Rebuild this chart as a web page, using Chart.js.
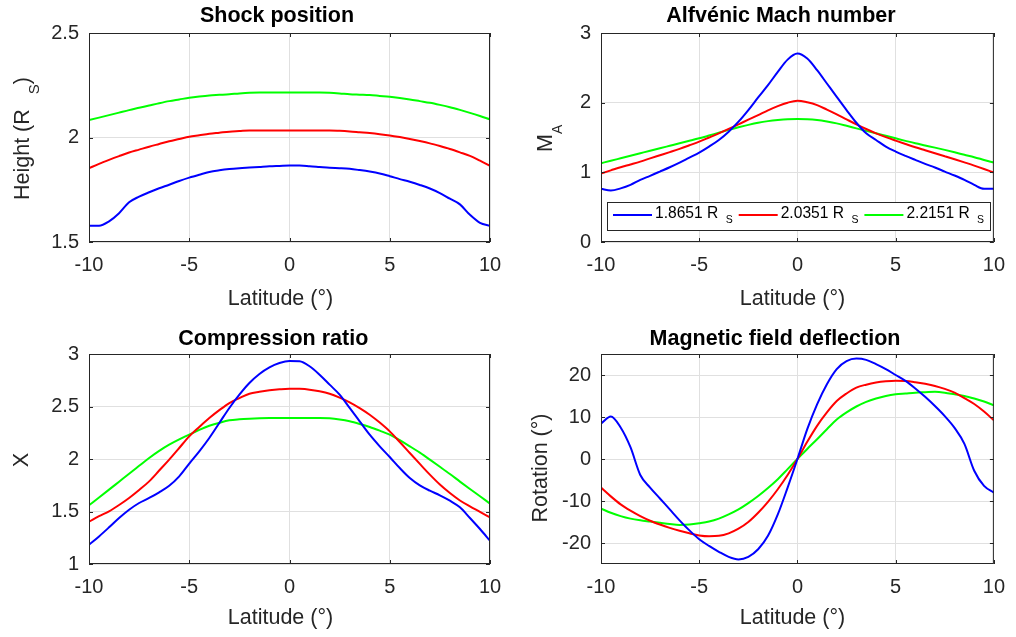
<!DOCTYPE html>
<html>
<head>
<meta charset="utf-8">
<script src="https://cdn.jsdelivr.net/npm/chart.js@4.4.1/dist/chart.umd.min.js"></script>
<style>
  html, body { margin: 0; padding: 0; background: #fff; }
  #wrap { position: relative; width: 1016px; height: 637px; }
  #wrap canvas { position: absolute; left: 0; top: 0; }
</style>
</head>
<body>
<div id="wrap">
  <canvas id="shock" width="1016" height="637"></canvas>
  <canvas id="mach" width="1016" height="637"></canvas>
  <canvas id="comp" width="1016" height="637"></canvas>
  <canvas id="rot" width="1016" height="637"></canvas>
</div>
<script>
// latitude samples (deg)
const latitude = [-10, -9.5, -9, -8.5, -8, -7.5, -7, -6.5, -6, -5.5, -5, -4.5, -4, -3.5, -3, -2.5, -2, -1.5, -1, -0.5,
  0, 0.5, 1, 1.5, 2, 2.5, 3, 3.5, 4, 4.5, 5, 5.5, 6, 6.5, 7, 7.5, 8, 8.5, 9, 9.5, 10];

const seriesLabels = ['1.8651 R', '2.0351 R', '2.2151 R'];
const seriesColors = ['#0000ff', '#ff0000', '#00ff00'];

const xTicks = [-10, -5, 0, 5, 10];
const shockTicks = [1.5, 2, 2.5];
const machTicks = [0, 1, 2, 3];
const compTicks = [1, 1.5, 2, 2.5, 3];
const rotTicks = [-20, -10, 0, 10, 20];

// Shock position (R_S)
const shockLow = [1.578, 1.578, 1.599, 1.638, 1.690, 1.717, 1.738, 1.757, 1.774, 1.792, 1.808, 1.822, 1.835, 1.843, 1.849, 1.853, 1.856, 1.859, 1.862, 1.864,
  1.866, 1.866, 1.863, 1.859, 1.855, 1.853, 1.850, 1.844, 1.837, 1.828, 1.815, 1.801, 1.788, 1.773, 1.756, 1.734, 1.707, 1.680, 1.630, 1.592, 1.578];
const shockMid = [1.853, 1.874, 1.893, 1.911, 1.928, 1.942, 1.956, 1.969, 1.982, 1.993, 2.004, 2.011, 2.018, 2.023, 2.028, 2.031, 2.034, 2.034, 2.034, 2.034,
  2.034, 2.034, 2.034, 2.034, 2.034, 2.032, 2.029, 2.025, 2.021, 2.016, 2.010, 2.002, 1.993, 1.983, 1.972, 1.959, 1.945, 1.929, 1.912, 1.889, 1.864];
const shockHigh = [2.083, 2.095, 2.107, 2.119, 2.131, 2.142, 2.153, 2.164, 2.174, 2.182, 2.190, 2.196, 2.201, 2.204, 2.207, 2.211, 2.214, 2.215, 2.215, 2.215,
  2.215, 2.215, 2.215, 2.215, 2.214, 2.211, 2.207, 2.205, 2.203, 2.199, 2.195, 2.189, 2.182, 2.174, 2.166, 2.156, 2.145, 2.132, 2.118, 2.103, 2.087];

// Alfvenic Mach number
const machLow = [0.763, 0.740, 0.770, 0.820, 0.892, 0.950, 1.011, 1.073, 1.140, 1.212, 1.283, 1.369, 1.464, 1.584, 1.727, 1.894, 2.075, 2.251, 2.442, 2.618,
  2.704, 2.633, 2.466, 2.275, 2.084, 1.894, 1.712, 1.560, 1.464, 1.369, 1.298, 1.236, 1.178, 1.121, 1.069, 1.011, 0.954, 0.892, 0.820, 0.763, 0.763];
const machMid = [0.983, 1.028, 1.073, 1.113, 1.154, 1.200, 1.245, 1.290, 1.336, 1.388, 1.441, 1.500, 1.560, 1.623, 1.689, 1.756, 1.822, 1.890, 1.951, 2.000,
  2.027, 2.005, 1.965, 1.900, 1.832, 1.760, 1.689, 1.622, 1.560, 1.505, 1.455, 1.407, 1.360, 1.317, 1.274, 1.231, 1.188, 1.143, 1.097, 1.048, 0.997];
const machHigh = [1.131, 1.166, 1.202, 1.238, 1.274, 1.310, 1.345, 1.381, 1.417, 1.452, 1.488, 1.528, 1.569, 1.609, 1.646, 1.681, 1.712, 1.735, 1.751, 1.762,
  1.765, 1.762, 1.751, 1.730, 1.703, 1.668, 1.631, 1.595, 1.560, 1.524, 1.488, 1.452, 1.417, 1.386, 1.355, 1.322, 1.288, 1.252, 1.217, 1.178, 1.140];

// Compression ratio
const compLow = [1.184, 1.263, 1.349, 1.438, 1.517, 1.581, 1.629, 1.683, 1.746, 1.835, 1.956, 2.073, 2.200, 2.343, 2.486, 2.613, 2.724, 2.810, 2.873, 2.914,
  2.933, 2.930, 2.883, 2.803, 2.708, 2.613, 2.486, 2.359, 2.232, 2.121, 2.019, 1.914, 1.819, 1.749, 1.698, 1.654, 1.603, 1.540, 1.438, 1.333, 1.222];
const compMid = [1.403, 1.455, 1.502, 1.562, 1.629, 1.705, 1.787, 1.890, 1.994, 2.105, 2.216, 2.305, 2.390, 2.465, 2.533, 2.580, 2.622, 2.640, 2.654, 2.664,
  2.670, 2.668, 2.660, 2.645, 2.622, 2.585, 2.540, 2.485, 2.422, 2.347, 2.263, 2.162, 2.057, 1.953, 1.851, 1.757, 1.676, 1.605, 1.549, 1.497, 1.444];
const compHigh = [1.559, 1.633, 1.708, 1.784, 1.860, 1.935, 2.010, 2.078, 2.137, 2.187, 2.232, 2.278, 2.317, 2.345, 2.368, 2.378, 2.384, 2.388, 2.390, 2.390,
  2.390, 2.390, 2.390, 2.390, 2.387, 2.376, 2.359, 2.334, 2.305, 2.270, 2.232, 2.180, 2.121, 2.060, 1.994, 1.926, 1.857, 1.785, 1.714, 1.645, 1.575];

// Magnetic field rotation (deg)
const rotLow = [8.4, 10.1, 7.5, 2.8, -3.8, -6.8, -9.4, -12.0, -14.6, -17.0, -19.1, -20.7, -22.1, -23.3, -23.9, -23.3, -21.5, -18.3, -13.2, -6.8,
  0, 7.1, 13.0, 17.8, 21.4, 23.3, 23.9, 23.6, 22.6, 21.4, 20.0, 18.6, 16.8, 14.8, 12.6, 10.2, 7.4, 3.6, -2.8, -6.4, -8.0];
const rotMid = [-6.8, -8.9, -10.8, -12.3, -13.6, -14.7, -15.6, -16.4, -17.1, -17.7, -18.2, -18.4, -18.3, -17.7, -16.6, -15.0, -12.8, -10.2, -7.2, -3.8,
  0, 4.1, 7.9, 11.1, 13.8, 15.6, 17.0, 17.7, 18.2, 18.5, 18.65, 18.6, 18.3, 17.9, 17.4, 16.7, 15.8, 14.5, 13.1, 11.3, 9.2];
const rotHigh = [-11.8, -12.8, -13.6, -14.2, -14.6, -14.9, -15.2, -15.5, -15.7, -15.6, -15.3, -14.9, -14.2, -13.2, -12.0, -10.5, -8.8, -6.9, -4.8, -2.4,
  0, 2.4, 4.7, 7.1, 9.4, 11.1, 12.5, 13.6, 14.4, 15.0, 15.4, 15.6, 15.8, 15.9, 16.0, 15.8, 15.4, 15.0, 14.4, 13.7, 12.8];

const FONT = '"Liberation Sans", Arial, Helvetica, sans-serif';
const AXIS_COLOR = '#262626';
const GRID_COLOR = '#e0e0e0';

// lay out a sequence of text pieces (for R_S style subscripts)
function drawRich(ctx, parts, ox, oy, opts) {
  ctx.save();
  ctx.translate(ox, oy);
  if (opts.rotate) ctx.rotate(-Math.PI / 2);
  let x = 0;
  const items = [];
  parts.forEach(p => {
    x += p.gap || 0;
    ctx.font = (p.bold ? 'bold ' : '') + p.size + 'px ' + FONT;
    const w = ctx.measureText(p.text).width;
    items.push({ p, x, w });
    x += w;
  });
  const shift = opts.center ? -x / 2 : 0;
  ctx.fillStyle = opts.color || AXIS_COLOR;
  ctx.textAlign = 'left';
  ctx.textBaseline = 'alphabetic';
  items.forEach(it => {
    ctx.font = (it.p.bold ? 'bold ' : '') + it.p.size + 'px ' + FONT;
    ctx.fillText(it.p.text, it.x + shift, it.p.dy || 0);
  });
  ctx.restore();
}

function makePanel(id, cfg) {
  const series = cfg.series;
  const datasets = series.map((arr, i) => ({
    label: seriesLabels[i],
    data: latitude.map((lat, j) => ({ x: lat, y: arr[j] })),
    borderColor: seriesColors[i],
    borderWidth: 2,
    pointRadius: 0,
    fill: false,
    cubicInterpolationMode: 'monotone'
  }));

  const a = cfg.area;
  const xAxisH = 40;

  // box, inward ticks, titles, labels and legend
  const decor = {
    id: 'decor_' + id,
    afterDatasetsDraw(chart) {
      const ctx = chart.ctx;
      const ca = chart.chartArea;
      const xs = chart.scales.x, ys = chart.scales.y;
      ctx.save();
      ctx.strokeStyle = AXIS_COLOR;
      ctx.lineWidth = 1;
      ctx.beginPath();
      xTicks.forEach(v => {
        const px = Math.round(xs.getPixelForValue(v)) + 0.5;
        ctx.moveTo(px, ca.bottom); ctx.lineTo(px, ca.bottom - 4);
        ctx.moveTo(px, ca.top); ctx.lineTo(px, ca.top + 4);
      });
      cfg.yTicks.forEach(v => {
        const py = Math.round(ys.getPixelForValue(v)) + 0.5;
        ctx.moveTo(ca.left, py); ctx.lineTo(ca.left + 4, py);
        ctx.moveTo(ca.right, py); ctx.lineTo(ca.right - 4, py);
      });
      ctx.stroke();
      ctx.strokeRect(ca.left + 0.5, ca.top + 0.5, ca.right - ca.left - 1, ca.bottom - ca.top - 1);
      ctx.restore();

      drawRich(ctx, [{ text: cfg.title, size: 21.5, bold: true }], cfg.titlePos[0], cfg.titlePos[1], { center: true, color: '#000' });
      drawRich(ctx, [{ text: 'Latitude (°)', size: 21.5 }], cfg.xLabelPos[0], cfg.xLabelPos[1], { center: true });
      drawRich(ctx, cfg.yLabel, cfg.yLabelPos[0], cfg.yLabelPos[1], { rotate: true, center: cfg.yLabelCenter });

      if (cfg.legend) {
        const lg = cfg.legend;
        ctx.save();
        ctx.fillStyle = '#fff';
        ctx.fillRect(lg.left, lg.top, lg.right - lg.left, lg.bottom - lg.top);
        ctx.strokeStyle = AXIS_COLOR;
        ctx.lineWidth = 1;
        ctx.strokeRect(lg.left + 0.5, lg.top + 0.5, lg.right - lg.left, lg.bottom - lg.top);
        chart.data.datasets.forEach((ds, i) => {
          const x0 = lg.left + 6 + i * lg.step;
          ctx.strokeStyle = ds.borderColor;
          ctx.lineWidth = 2;
          ctx.beginPath();
          ctx.moveTo(x0, lg.lineY);
          ctx.lineTo(x0 + 39, lg.lineY);
          ctx.stroke();
          drawRich(ctx, [{ text: ds.label, size: 15.6 }, { text: 'S', size: 10.5, dy: 5.3, gap: 7.4 }],
            x0 + 42, lg.textY, { color: '#000' });
        });
        ctx.restore();
      }
    }
  };

  return new Chart(document.getElementById(id), {
    type: 'line',
    data: { datasets },
    options: {
      responsive: false,
      animation: false,
      events: [],
      layout: { padding: { left: 0, top: a.top, right: 1016 - a.right, bottom: 637 - a.bottom - xAxisH } },
      plugins: { legend: { display: false }, title: { display: false }, tooltip: { enabled: false } },
      scales: {
        x: {
          type: 'linear',
          min: -10, max: 10,
          afterFit: s => { s.height = xAxisH; },
          afterBuildTicks: s => { s.ticks = xTicks.map(v => ({ value: v })); },
          grid: { color: GRID_COLOR, drawTicks: false },
          border: { display: false },
          ticks: { color: AXIS_COLOR, padding: 11, maxRotation: 0, font: { family: FONT, size: 20 } }
        },
        y: {
          min: cfg.yMin, max: cfg.yMax,
          afterFit: s => { s.width = a.left; },
          afterBuildTicks: s => { s.ticks = cfg.yTicks.map(v => ({ value: v })); },
          grid: { color: GRID_COLOR, drawTicks: false },
          border: { display: false },
          ticks: { color: AXIS_COLOR, padding: 10, font: { family: FONT, size: 20 }, callback: v => String(v) }
        }
      }
    },
    plugins: [decor]
  });
}

makePanel('shock', {
  area: { left: 89, right: 490, top: 33, bottom: 242 },
  series: [shockLow, shockMid, shockHigh],
  yMin: 1.5, yMax: 2.5, yTicks: shockTicks,
  title: 'Shock position', titlePos: [277, 22],
  xLabelPos: [280.5, 305],
  yLabel: [{ text: 'Height (R', size: 21.5 }, { text: 'S', size: 15, dy: 10.5, gap: 15 }, { text: ')', size: 21.5, gap: 0 }],
  yLabelPos: [28.5, 200], yLabelCenter: false
});

makePanel('mach', {
  area: { left: 601, right: 1001, top: 33, bottom: 242 },
  series: [machLow, machMid, machHigh],
  yMin: 0, yMax: 3, yTicks: machTicks,
  title: 'Alfvénic Mach number', titlePos: [781, 22],
  xLabelPos: [792.5, 305],
  yLabel: [{ text: 'M', size: 21.5 }, { text: 'A', size: 14, dy: 10 }],
  yLabelPos: [552, 152], yLabelCenter: false,
  legend: { left: 607, top: 202, right: 990, bottom: 230, step: 125.7, lineY: 215, textY: 218 }
});

makePanel('comp', {
  area: { left: 89, right: 490, top: 354, bottom: 564 },
  series: [compLow, compMid, compHigh],
  yMin: 1, yMax: 3, yTicks: compTicks,
  title: 'Compression ratio', titlePos: [273.3, 345],
  xLabelPos: [280.5, 624],
  yLabel: [{ text: 'X', size: 21.5 }],
  yLabelPos: [28, 460], yLabelCenter: true
});

makePanel('rot', {
  area: { left: 601, right: 1001, top: 354, bottom: 564 },
  series: [rotLow, rotMid, rotHigh],
  yMin: -25, yMax: 25, yTicks: rotTicks,
  title: 'Magnetic field deflection', titlePos: [775, 345],
  xLabelPos: [792.5, 624],
  yLabel: [{ text: 'Rotation (°)', size: 21.5 }],
  yLabelPos: [547, 468], yLabelCenter: true
});
</script>
</body>
</html>
